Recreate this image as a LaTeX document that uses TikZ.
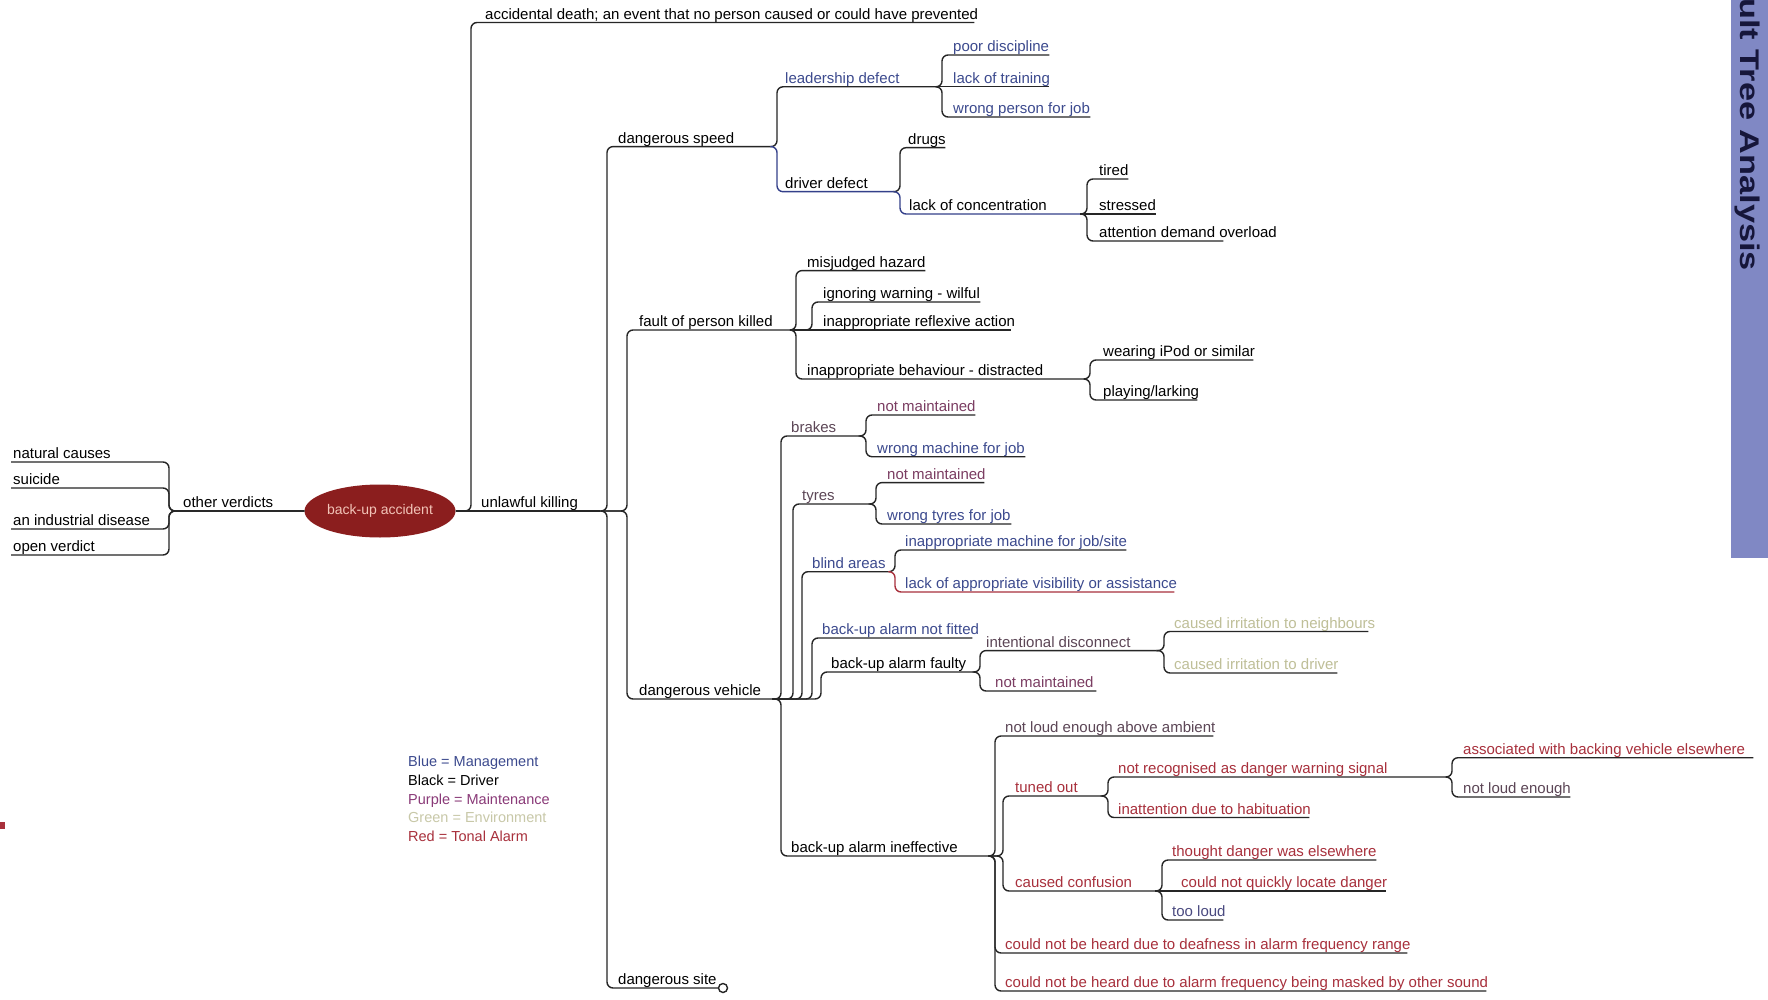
\documentclass[tikz,border=0pt]{standalone}
\usepackage{fontspec}
\setmainfont{Liberation Sans}
\usetikzlibrary{shapes.geometric}
\definecolor{mg}{HTML}{3C4A8E}
\definecolor{mt}{HTML}{7B3D62}
\definecolor{mtg}{HTML}{5C4656}
\definecolor{env}{HTML}{BFBF98}
\definecolor{ta}{HTML}{A8303C}
\definecolor{tl}{HTML}{4A4A80}
\definecolor{legp}{HTML}{8A3A78}
\definecolor{legg}{HTML}{C8C8A8}
\definecolor{rootred}{HTML}{8B1E1E}
\definecolor{roottext}{HTML}{F2C4B8}
\definecolor{band}{HTML}{8088C4}
\definecolor{titlec}{HTML}{16163A}
\definecolor{blueline}{HTML}{34408A}
\newcommand\Nd[7][10]{\node[lbl,text=#6] (#2) at (#3,#4) {\makebox[\dimexpr #5pt-#3pt\relax][l]{\hspace{#1pt}#7}};}
\newcommand\Ed[3][]{\draw[edge,#1] (#2.south east) -| (#3.south west) -- (#3.south east);}
\newcommand\Es[3][]{\draw[edge,#1] (#2.south east) -- (#3.south east);}
\tikzset{
  lbl/.style={anchor=south west, inner sep=0pt, text height=11pt, text depth=3pt, font=\fontsize{15}{18}\selectfont},
  edge/.style={draw=black!85, line width=1.4pt, rounded corners=6pt},
  leg/.style={anchor=base west, inner sep=0pt, font=\fontsize{14.5}{17}\selectfont}
}
\begin{document}
\begin{tikzpicture}[x=1pt,y=-1pt]
\useasboundingbox (0,0) rectangle (1768,1000);
\fill[white] (0,0) rectangle (1768,1000);
\begin{scope}
\clip (0,0) rectangle (1768,1000);
\fill[band] (1731,0) rectangle (1768,558);
\node[rotate=-90, anchor=base east, inner sep=0pt, text=titlec, font=\bfseries\fontsize{27}{27}\selectfont] (title) at (1740,271) {\scalebox{1.27}[1]{Fault Tree Analysis}};
\end{scope}
\fill[ta] (0,822) rectangle (5,829);

% root
\node[ellipse, fill=rootred, minimum width=151pt, minimum height=53pt, inner sep=0pt, text=roottext, font=\fontsize{14}{16}\selectfont] (root) at (380,511) {back-up accident};

% left side
\Nd[14]{OV}{169}{511}{304.5}{black}{other verdicts}
\Nd[2]{NC}{11}{462}{160}{black}{natural causes}
\Nd[2]{SU}{11}{488}{160}{black}{suicide}
\Nd[2]{IND}{11}{529}{160}{black}{an industrial disease}
\Nd[2]{OPV}{11}{555}{160}{black}{open verdict}
\draw[edge] (NC.south west) -| (OV.south west) -- (root.west);
\draw[edge] (SU.south west) -| (OV.south west) -- (root.west);
\draw[edge] (IND.south west) -| (OV.south west) -- (root.west);
\draw[edge] (OPV.south west) -| (OV.south west) -- (root.west);

% right of root
\Nd[14]{AD}{471}{22.5}{974}{black}{accidental death; an event that no person caused or could have prevented}
\Nd[10]{UK}{471}{511}{600}{black}{unlawful killing}
\draw[edge] (root.east) -| (AD.south west) -- (AD.south east);
\draw[edge] (root.east) -- (UK.south east);

\Nd[11]{DS}{607}{146.6}{770}{black}{dangerous speed}
\Nd[11]{SI}{607}{988}{718.5}{black}{dangerous site}
\Nd[12]{FP}{627}{330}{790}{black}{fault of person killed}
\Nd[12]{DV}{627}{699}{772}{black}{dangerous vehicle}
\node[circle, draw=black!85, line width=1.4pt, fill=white, inner sep=0pt, minimum size=9pt] (SC) at (723,988) {};
\Ed{UK}{DS}
\draw[edge] (UK.south east) -| (SI.south west) -- (SC.west);
\Ed{UK}{FP}
\Ed{UK}{DV}

% dangerous speed
\Nd[8]{LD}{777}{86.8}{935}{mg}{leadership defect}
\Nd[8]{DD}{777}{191.7}{893}{black}{driver defect}
\Nd[11]{PD}{942}{55}{1049}{mg}{poor discipline}
\Nd[11]{LT}{942}{86.8}{1049}{mg}{lack of training}
\Nd[11]{WP}{942}{117}{1090}{mg}{wrong person for job}
\Nd[8]{DR}{900}{147.7}{945}{black}{drugs}
\Nd[9]{LC}{900}{214}{1080}{black}{lack of concentration}
\Nd[12]{TI}{1087}{179}{1128}{black}{tired}
\Nd[12]{ST}{1087}{214}{1156}{black}{stressed}
\Nd[12]{AO}{1087}{241}{1223}{black}{attention demand overload}
\Ed{DS}{LD}
\Ed[draw=blueline]{DS}{DD}
\Ed{LD}{PD}
\Es{LD}{LT}
\Ed{LD}{WP}
\Ed{DD}{DR}
\Ed[draw=blueline]{DD}{LC}
\Ed{LC}{TI}
\Es{LC}{ST}
\Ed{LC}{AO}

% fault of person killed
\Nd[11]{MH}{796}{270.6}{925}{black}{misjudged hazard}
\Nd[11]{IW}{812}{302}{980}{black}{ignoring warning - wilful}
\Nd[11]{RA}{812}{330}{1011}{black}{inappropriate reflexive action}
\Nd[11]{IB}{796}{379}{1083}{black}{inappropriate behaviour - distracted}
\Nd[13]{IP}{1090}{360}{1253}{black}{wearing iPod or similar}
\Nd[13]{PL}{1090}{400}{1197}{black}{playing/larking}
\Ed{FP}{MH}
\Ed{FP}{IW}
\Es{FP}{RA}
\Ed{FP}{IB}
\Ed{IB}{IP}
\Ed{IB}{PL}

% dangerous vehicle
\Nd[10]{BR}{781}{436}{858}{mtg}{brakes}
\Nd[11]{BN}{866}{415}{975}{mt}{not maintained}
\Nd[11]{BW}{866}{456.7}{1025}{mg}{wrong machine for job}
\Nd[9]{TY}{793}{504}{868}{mtg}{tyres}
\Nd[11]{TN}{876}{482.6}{984}{mt}{not maintained}
\Nd[11]{TW}{876}{524}{1011}{mg}{wrong tyres for job}
\Nd[10]{BA}{802}{571.7}{888}{mg}{blind areas}
\Nd[10]{IM}{895}{550}{1126}{mg}{inappropriate machine for job/site}
\Nd[10]{LV}{895}{592}{1174}{mg}{lack of appropriate visibility or assistance}
\Nd[10]{NF}{812}{638}{972}{mg}{back-up alarm not fitted}
\Nd[10]{AF}{821}{672}{972}{black}{back-up alarm faulty}
\Nd[6]{IDC}{980}{650.6}{1156}{mtg}{intentional disconnect}
\Nd[10]{CN}{1164}{631.5}{1368}{env}{caused irritation to neighbours}
\Nd[10]{CD}{1164}{673}{1337}{env}{caused irritation to driver}
\Nd[15]{AM}{980}{691}{1096}{mt}{not maintained}
\Ed{DV}{BR}
\Ed{DV}{TY}
\Ed{DV}{BA}
\Ed{DV}{NF}
\Ed{DV}{AF}
\Ed{BR}{BN}
\Ed{BR}{BW}
\Ed{TY}{TN}
\Ed{TY}{TW}
\Ed{BA}{IM}
\Ed[draw=ta]{BA}{LV}
\Ed{AF}{IDC}
\Ed{AF}{AM}
\Ed{IDC}{CN}
\Ed{IDC}{CD}

% back-up alarm ineffective
\Nd[10]{AI}{781}{856}{988}{black}{back-up alarm ineffective}
\Nd[10]{LA}{995}{736}{1213}{mtg}{not loud enough above ambient}
\Nd[12]{TO}{1003}{796}{1100}{ta}{tuned out}
\Nd[10]{NR}{1108}{777}{1445}{ta}{not recognised as danger warning signal}
\Nd[11]{AW}{1452}{757.7}{1753}{ta}{associated with backing vehicle elsewhere}
\Nd[11]{NL}{1452}{797}{1570}{mtg}{not loud enough}
\Nd[10]{IH}{1108}{817.5}{1309}{ta}{inattention due to habituation}
\Nd[12]{CC}{1003}{891}{1155}{ta}{caused confusion}
\Nd[10]{TD}{1162}{860}{1376}{ta}{thought danger was elsewhere}
\Nd[19]{QL}{1162}{891}{1386}{ta}{could not quickly locate danger}
\Nd[10]{TL}{1162}{920}{1223}{tl}{too loud}
\Nd[10]{DF}{995}{953}{1407}{ta}{could not be heard due to deafness in alarm frequency range}
\Nd[10]{MS}{995}{991}{1486}{ta}{could not be heard due to alarm frequency being masked by other sound}
\Ed{DV}{AI}
\Ed{AI}{LA}
\Ed{AI}{TO}
\Ed{AI}{CC}
\Ed{AI}{DF}
\Ed{AI}{MS}
\Ed{TO}{NR}
\Ed{TO}{IH}
\Ed{NR}{AW}
\Ed{NR}{NL}
\Ed{CC}{TD}
\Es{CC}{QL}
\Ed{CC}{TL}

% legend
\node[leg, text=mg] (L1) at (408,766) {Blue = Management};
\node[leg, text=black] (L2) at (408,785) {Black = Driver};
\node[leg, text=legp] (L3) at (408,804) {Purple = Maintenance};
\node[leg, text=legg] (L4) at (408,822) {Green = Environment};
\node[leg, text=ta] (L5) at (408,841) {Red = Tonal Alarm};
\end{tikzpicture}
\end{document}
